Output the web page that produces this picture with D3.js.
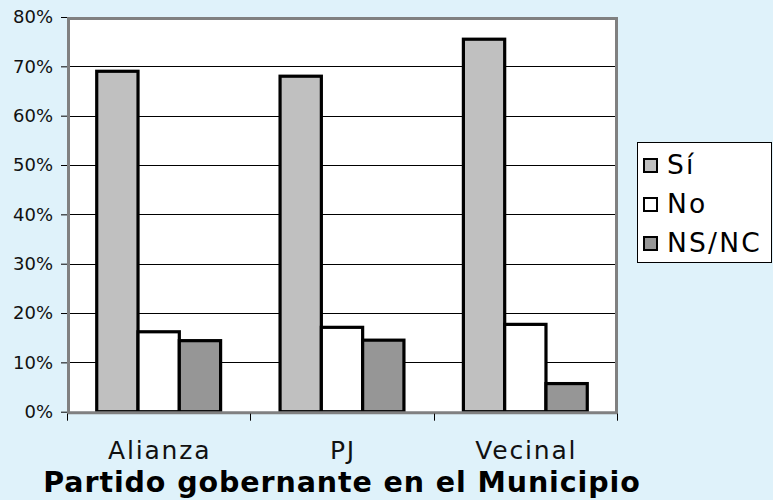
<!DOCTYPE html>
<html>
<head>
<meta charset="utf-8">
<script src="https://cdn.jsdelivr.net/npm/d3@7"></script>
<style>
  body { margin: 0; background: #dff2fa; }
  svg { display: block; font-family: "DejaVu Sans", Verdana, sans-serif; }
</style>
</head>
<body>
<script>
// datos
var categorias = ["Alianza", "PJ", "Vecinal"];
var series = ["Sí", "No", "NS/NC"];
var valoresSi = [0.690, 0.680, 0.755];
var valoresNo = [0.162, 0.171, 0.177];
var valoresNsnc = [0.144, 0.145, 0.057];
var ticksY = [0, 0.1, 0.2, 0.3, 0.4, 0.5, 0.6, 0.7, 0.8];
var colores = ["#c0c0c0", "#ffffff", "#969696"];
var titulo = "Partido gobernante en el Municipio";

var width = 773;
var height = 500;
var plot = {left: 67, right: 617, top: 17, bottom: 411.7};

var svg = d3.select("body").append("svg")
	.attr("width", width)
	.attr("height", height);

var valores = [valoresSi, valoresNo, valoresNsnc];
var filas = categorias.map(function(c, i) {
	return {cat: c, vals: series.map(function(s, j) { return {serie: s, idx: j, v: valores[j][i]}; })};
});

var x0 = d3.scaleBand().domain(categorias).range([plot.left, plot.right]).padding(0);
var x1 = d3.scaleBand().domain(series).range([0, x0.bandwidth()]).paddingInner(0).paddingOuter(0.72);
var y = d3.scaleLinear().domain([0, 0.8]).range([plot.bottom, plot.top]);

// area del grafico
svg.append("rect")
	.attr("x", plot.left).attr("y", plot.top)
	.attr("width", plot.right - plot.left).attr("height", plot.bottom - plot.top)
	.attr("fill", "#fff");

// lineas de division
svg.append("g").selectAll("line")
	.data(ticksY.slice(1, -1))
	.enter().append("line")
	.attr("x1", plot.left).attr("x2", plot.right)
	.attr("y1", function(d) { return Math.round(y(d)) + 0.5; })
	.attr("y2", function(d) { return Math.round(y(d)) + 0.5; })
	.attr("stroke", "#000").attr("stroke-width", 1.2);

// barras
var grupos = svg.append("g").selectAll("g")
	.data(filas)
	.enter().append("g")
	.attr("transform", function(d) { return "translate(" + x0(d.cat) + ",0)"; });

grupos.selectAll("rect")
	.data(function(d) { return d.vals; })
	.enter().append("rect")
	.attr("x", function(d) { return x1(d.serie); })
	.attr("y", function(d) { return y(d.v); })
	.attr("width", x1.bandwidth())
	.attr("height", function(d) { return y(0) - y(d.v); })
	.attr("fill", function(d) { return colores[d.idx]; })
	.attr("stroke", "#000")
	.attr("stroke-width", 3.2);

// borde gris del area
var borde = svg.append("g").attr("fill", "none").attr("stroke", "#808080").attr("stroke-width", 3);
borde.append("path")
	.attr("d", "M" + (plot.left + 1.5) + "," + (plot.bottom + 1) + "V" + (plot.top + 1.5) + "H" + (plot.right - 0.5) + "V" + (plot.bottom + 1));
borde.append("line")
	.attr("x1", plot.left).attr("x2", plot.right + 1)
	.attr("y1", plot.bottom + 1).attr("y2", plot.bottom + 1);

// eje Y
var ejeY = svg.append("g")
	.attr("transform", "translate(" + plot.left + ",0)")
	.call(d3.axisLeft(y).tickValues(ticksY).tickFormat(d3.format(".0%")).tickSize(6).tickPadding(8));
ejeY.select(".domain").remove();
ejeY.selectAll(".tick line").attr("stroke", "#000");
ejeY.selectAll("text")
	.attr("font-size", 18)
	.attr("font-family", "DejaVu Sans, sans-serif")
	.attr("fill", "#111");

// marcas del eje X
svg.append("g").selectAll("line")
	.data(categorias.map(function(c) { return x0(c); }).concat([plot.right]))
	.enter().append("line")
	.attr("x1", function(d) { return Math.round(d) + 0.5; })
	.attr("x2", function(d) { return Math.round(d) + 0.5; })
	.attr("y1", plot.bottom + 2).attr("y2", plot.bottom + 9)
	.attr("stroke", "#000");

// etiquetas de categoria
svg.append("g").selectAll("text")
	.data(categorias)
	.enter().append("text")
	.attr("x", function(d) { return x0(d) + x0.bandwidth() / 2 + 1; })
	.attr("y", 459)
	.attr("text-anchor", "middle")
	.attr("font-size", 25)
	.attr("letter-spacing", 1.8)
	.attr("fill", "#111")
	.text(function(d) { return d; });

// titulo
svg.append("text")
	.attr("x", (plot.left + plot.right) / 2)
	.attr("y", 492)
	.attr("text-anchor", "middle")
	.attr("font-size", 28.5)
	.attr("font-weight", "bold")
	.attr("letter-spacing", 0.9)
	.attr("fill", "#000")
	.text(titulo);

// leyenda
var leyenda = svg.append("g");
leyenda.append("rect")
	.attr("x", 637.5).attr("y", 142.5)
	.attr("width", 134).attr("height", 120)
	.attr("fill", "#fff").attr("stroke", "#000");
var items = leyenda.selectAll("g")
	.data(series)
	.enter().append("g")
	.attr("transform", function(d, i) { return "translate(0," + (174 + i * 39) + ")"; });
items.append("rect")
	.attr("x", 644).attr("y", -15)
	.attr("width", 13).attr("height", 13)
	.attr("fill", function(d, i) { return colores[i]; })
	.attr("stroke", "#000").attr("stroke-width", 2);
items.append("text")
	.attr("x", 667).attr("y", 0)
	.attr("font-size", 26.5)
	.attr("letter-spacing", 2.2)
	.attr("fill", "#000")
	.text(function(d) { return d; });
</script>
</body>
</html>
